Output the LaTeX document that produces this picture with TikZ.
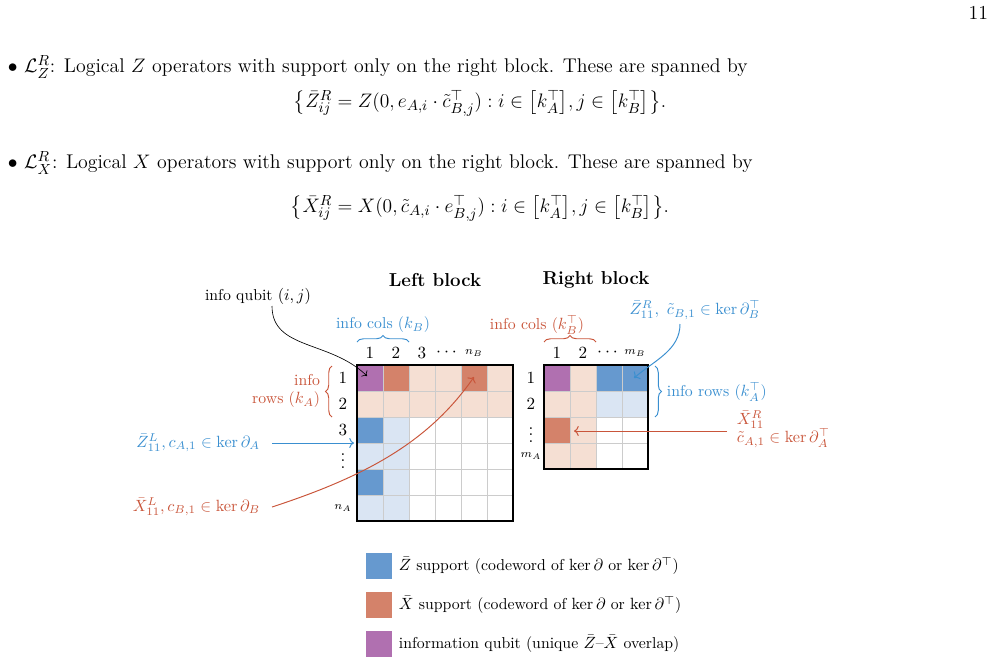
\documentclass[tikz,border=0pt]{standalone}
\usepackage{amsmath,amssymb}
\usetikzlibrary{decorations.pathreplacing,arrows.meta}
\definecolor{zfull}{HTML}{6699CF}
\definecolor{zlight}{HTML}{DAE5F3}
\definecolor{xfull}{HTML}{D4826A}
\definecolor{xlight}{HTML}{F5DFD3}
\definecolor{qinfo}{HTML}{B070B0}
\definecolor{zlabel}{HTML}{3A8FD0}
\definecolor{xlabel}{HTML}{C9553A}
\tikzset{
body/.style={inner sep=1pt, font=\fontsize{12.2}{14}\selectfont},
idx/.style={inner sep=1pt, font=\fontsize{10.5}{12}\selectfont},
ann/.style={inner sep=1pt, font=\fontsize{9.7}{11.5}\selectfont, align=right},
brc/.style={decorate, decoration={brace, amplitude=4pt}, line width=0.6pt}
}
\begin{document}
\begin{tikzpicture}[x=0.615pt, y=-0.615pt]
\useasboundingbox (0,0) rectangle (995,664);

% page text
\node[body, anchor=east] (pg) at (990,13) {11};
\node[body, anchor=west] (b1) at (6,67) {$\bullet$ $\mathcal{L}_Z^R$: Logical $Z$ operators with support only on the right block. These are spanned by};
\node[body] (e1) at (480,103) {$\bigl\{\bar Z^R_{ij} = Z(0, e_{A,i}\cdot\tilde c^\top_{B,j}) : i\in\bigl[k_A^\top\bigr], j\in\bigl[k_B^\top\bigr]\bigr\}.$};
\node[body, anchor=west] (b2) at (6,163) {$\bullet$ $\mathcal{L}_X^R$: Logical $X$ operators with support only on the right block. These are spanned by};
\node[body] (e2) at (480,208) {$\bigl\{\bar X^R_{ij} = X(0, \tilde c_{A,i}\cdot e^\top_{B,j}) : i\in\bigl[k_A^\top\bigr], j\in\bigl[k_B^\top\bigr]\bigr\}.$};

% left block cells
\foreach \c/\r/\col in {1/1/qinfo,2/1/xfull,3/1/xlight,4/1/xlight,5/1/xfull,6/1/xlight,
  1/2/xlight,2/2/xlight,3/2/xlight,4/2/xlight,5/2/xlight,6/2/xlight,
  1/3/zfull,1/4/zlight,1/5/zfull,1/6/zlight,2/3/zlight,2/4/zlight,2/5/zlight,2/6/zlight}
  \fill[\col] ({331+26*\c},{339+26*\r}) rectangle ++(26,26);
\foreach \i in {1,...,5}{
  \draw[black!20, line width=0.6pt] ({357+26*\i},365) -- ++(0,156);
  \draw[black!20, line width=0.6pt] (357,{365+26*\i}) -- ++(156,0);
}
\draw[line width=1.1pt] (357,365) rectangle (513,521);

% right block cells
\foreach \c/\r/\col in {1/1/qinfo,2/1/xlight,3/1/zfull,4/1/zfull,
  1/2/xlight,2/2/xlight,3/2/zlight,4/2/zlight,
  1/3/xfull,2/3/xlight,1/4/xlight,2/4/xlight}
  \fill[\col] ({518+26*\c},{339+26*\r}) rectangle ++(26,26);
\foreach \i in {1,...,3}{
  \draw[black!20, line width=0.6pt] ({544+26*\i},365) -- ++(0,104);
  \draw[black!20, line width=0.6pt] (544,{365+26*\i}) -- ++(104,0);
}
\draw[line width=1.1pt] (544,365) rectangle (648,469);

% titles and indices
\node[body, font=\fontsize{11.5}{13}\selectfont\bfseries] (lt) at (435,280) {Left block};
\node[body, font=\fontsize{11.5}{13}\selectfont\bfseries] (rt) at (596,280) {Right block};
\foreach \t [count=\k] in {1,2,3,$\cdots$,$\scriptstyle n_B$}
  \node[idx] (lc\k) at ({344+26*\k},353) {\t};
\foreach \t [count=\k] in {1,2,3,$\vdots$,,$\scriptstyle n_A$}
  \node[idx] (lr\k) at (343,{352+26*\k}) {\t};
\foreach \t [count=\k] in {1,2,$\cdots$,$\scriptstyle m_B$}
  \node[idx] (rc\k) at ({531+26*\k},353) {\t};
\foreach \t [count=\k] in {1,2,$\vdots$,$\scriptstyle m_A$}
  \node[idx] (rr\k) at (531,{352+26*\k}) {\t};

% braces
\draw[brc, zlabel] (357,342) -- (409,342);
\node[ann, text=zlabel] (icl) at (383,325) {info cols ($k_B$)};
\draw[brc, xlabel] (544,342) -- (596,342);
\node[ann, text=xlabel] (icr) at (537,325) {info cols ($k_B^\top$)};
\draw[brc, xlabel] (332,417) -- (332,366);
\node[ann, text=xlabel, anchor=east] (irl) at (322,391) {info\\rows ($k_A$)};
\draw[brc, zlabel] (655,366) -- (655,417);
\node[ann, text=zlabel, anchor=west] (irr) at (665,392) {info rows ($k_A^\top$)};

% annotations
\node[ann] (iq) at (258,296) {info qubit $(i,j)$};
\coordinate (iqe) at (367,376);
\draw[-{To}] (272,306) .. controls (272,350) and (330,340) .. (iqe);

\node[ann, text=zlabel, anchor=east] (zl) at (262,443) {$\bar Z^L_{11}, c_{A,1}\in\ker\partial_A$};
\coordinate (zle) at (354,443);
\draw[-{To}, zlabel, line width=0.6pt] (272,443) -- (zle);

\node[ann, text=xlabel, anchor=east] (xl) at (262,507) {$\bar X^L_{11}, c_{B,1}\in\ker\partial_B$};
\coordinate (xle) at (474,377);
\draw[-{To}, xlabel, line width=0.6pt] (272,507) .. controls (370,475) and (430,440) .. (xle);

\node[ann, text=zlabel] (zr) at (695,310) {$\bar Z^R_{11},\ \tilde c_{B,1}\in\ker\partial_B^\top$};
\coordinate (zre) at (634,378);
\draw[-{To}, zlabel, line width=0.6pt] (680,324) .. controls (680,350) and (655,360) .. (zre);

\node[ann, text=xlabel, anchor=west, align=left] (xr) at (735,429) {$\bar X^R_{11}$\\$\tilde c_{A,1}\in\ker\partial_A^\top$};
\coordinate (xre) at (574,431);
\draw[-{To}, xlabel, line width=0.6pt] (727,431) -- (xre);

% legend
\fill[zfull] (366,553) rectangle ++(26,26);
\node[ann, anchor=west] (lg1) at (397,566) {$\bar Z$ support (codeword of $\ker\partial$ or $\ker\partial^\top$)};
\fill[xfull] (366,592) rectangle ++(26,26);
\node[ann, anchor=west] (lg2) at (397,605) {$\bar X$ support (codeword of $\ker\partial$ or $\ker\partial^\top$)};
\fill[qinfo] (366,631) rectangle ++(26,26);
\node[ann, anchor=west] (lg3) at (397,644) {information qubit (unique $\bar Z$--$\bar X$ overlap)};
\end{tikzpicture}
\end{document}
